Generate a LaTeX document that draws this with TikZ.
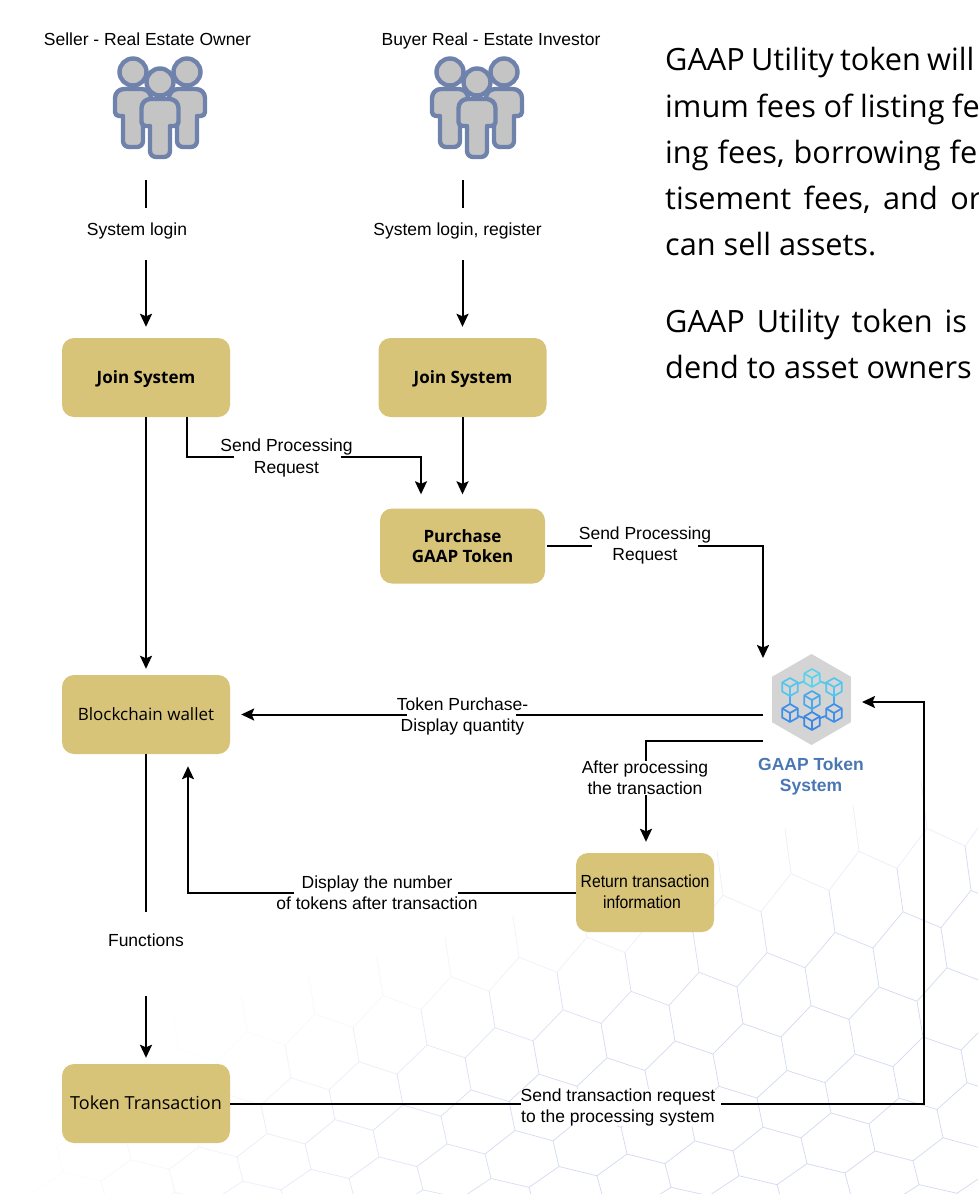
\documentclass[tikz,border=0pt]{standalone}
\usepackage{fontspec}
\setmainfont{Liberation Sans}
\newfontfamily\opensans{Open Sans}
\newfontfamily\narrowf[FakeStretch=0.9]{Liberation Sans}
\usetikzlibrary{arrows.meta,shapes.geometric}
\definecolor{boxgold}{HTML}{D7C479}
\definecolor{peopleline}{HTML}{6F82AC}
\definecolor{peoplefill}{HTML}{C4C4C4}
\definecolor{hexline}{HTML}{C3CDEB}
\definecolor{gaapblue}{HTML}{4A77B4}
\tikzset{
  x=1pt,y=-1pt,
  declare function={wy(\t)=\t-17*((1150-\t)/100)*((1150-\t)/100);},
  goldbox/.style={rectangle,rounded corners=12pt,fill=boxgold,minimum width=168pt,minimum height=79pt,inner sep=0pt,align=center,font=\opensans\fontsize{17}{20}\selectfont},
  boldbox/.style={goldbox,font=\opensans\bfseries\fontsize{17}{20}\selectfont},
  lbl/.style={inner sep=0pt,align=center,font=\fontsize{17.5}{21.3}\selectfont},
  wline/.style={draw=black,line width=2pt},
  warr/.style={wline,-{Stealth[length=13pt,width=12pt,inset=2.5pt]}},
  bodytxt/.style={anchor=base west,inner sep=0pt,font=\opensans\fontsize{30.7}{36}\selectfont},
  person/.style={draw=peopleline,fill=peoplefill,line width=4.4pt,line join=round},
}
\newcommand\onebody[3]{% x centre, top, arm half width
  \path[person] ({#1-#3+9},#2) -- ({#1+#3-9},#2)
    arc[start angle=90,end angle=0,radius=9pt,y=1pt] -- ({#1+#3},{#2+23})
    arc[start angle=0,end angle=-90,radius=4pt,y=1pt] -- ({#1+10},{#2+27})
    -- ({#1+10},{#2+52}) arc[start angle=0,end angle=-90,radius=6pt,y=1pt]
    -- ({#1-4},{#2+58}) arc[start angle=-90,end angle=-180,radius=6pt,y=1pt]
    -- ({#1-10},{#2+27}) -- ({#1-#3+4},{#2+27})
    arc[start angle=-90,end angle=-180,radius=4pt,y=1pt] -- ({#1-#3},{#2+9})
    arc[start angle=180,end angle=90,radius=9pt,y=1pt] -- cycle;}
\newcommand\people[1]{%
  \begin{scope}[shift={(#1,0)}]
    \path[person] (133,72) circle (13.5);
    \path[person] (187,72) circle (13.5);
    \onebody{133}{89}{18}
    \onebody{187}{89}{18}
    \path[person] (160,82) circle (13.5);
    \onebody{160}{99}{18.5}
  \end{scope}}
\newcommand\cube[3]{%
  \begin{scope}[shift={(#1,#2)}]
    \draw[#3,line width=1.7pt,line join=round,fill=peoplefill!70]
      (0,-9) -- (7.8,-4.5) -- (7.8,4.5) -- (0,9) -- (-7.8,4.5) -- (-7.8,-4.5) -- cycle;
    \draw[#3,line width=1.7pt] (-7.8,-4.5) -- (0,0) -- (7.8,-4.5) (0,0) -- (0,9);
  \end{scope}}
\begin{document}
\begin{tikzpicture}
\useasboundingbox (0,0) rectangle (978,1194);
\fill[white] (0,0) rectangle (978,1194);
% background honeycomb
\begin{scope}
\clip (0,0) rectangle (978,1194);
\foreach \i in {-9,...,8}{
 \foreach \j in {-10,...,10}{
  \pgfmathsetmacro\ax{627+68*\i+44*\j}
  \pgfmathsetmacro\ay{1154-13*\i+36*\j}
  \pgfmathsetmacro\op{0.75*min(1,max(0,(\ax)/550))*min(1,max(0,(wy(\ay)-770-0.35*(900-\ax))/150))}
  \ifdim\op pt>0.03pt
   \draw[hexline,line width=0.7pt,opacity=\op]
     ({\ax+38},{wy(\ay+10)}) -- (\ax,{wy(\ay)}) -- ({\ax-6},{wy(\ay-26)})
     (\ax,{wy(\ay)}) -- ({\ax-30},{wy(\ay+23)});
  \fi
 }}
\end{scope}
% people
\people{0}
\people{317}
\node[lbl] (sellerT) at (147.5,39) {Seller - Real Estate Owner};
\node[lbl] (buyerT) at (491,41) {Buyer Real - Estate Investor};
\coordinate (sellerOut) at (146,180);
\coordinate (buyerOut) at (463,180);
% boxes
\node[boldbox] (joinS) at (146,377.5) {};
\node[boldbox] (joinB) at (462.5,377.5) {};
\node[inner sep=0pt,font=\opensans\bfseries\fontsize{17}{20}\selectfont] (joinSt) at (146,379) {Join System};
\node[inner sep=0pt,font=\opensans\bfseries\fontsize{17}{20}\selectfont] (joinBt) at (463,379) {Join System};
\node[boldbox,minimum width=165pt,minimum height=75pt] (purchase) at (462.5,546) {Purchase\\GAAP Token};
\node[goldbox] (wallet) at (146,714.5) {Blockchain wallet};
\node[goldbox,minimum width=138pt] (ret) at (645,892.5) {};
\node[inner sep=0pt,align=center,font=\narrowf\fontsize{17.5}{21}\selectfont] (rett) at (645,891.5) {Return transaction\\\hspace*{-6pt}information};
\node[goldbox] (token) at (146,1103.5) {};
\node[inner sep=0pt,font=\opensans\fontsize{18}{20}\selectfont] (tokent) at (146,1102.5) {Token Transaction};
% GAAP system icon
\node[regular polygon,regular polygon sides=6,shape border rotate=30,minimum size=91pt,inner sep=0pt,fill=black!17] (gaap) at (811.5,699.5) {};
\draw[line width=1.7pt,color={rgb,255:red,86;green,196;blue,238}] (790,687) -- (812,678) -- (834,687);
\draw[line width=1.7pt,color={rgb,255:red,72;green,170;blue,236}] (790,687) -- (790,713) (834,687) -- (834,713) (812,700) -- (812,721);
\draw[line width=1.7pt,color={rgb,255:red,60;green,138;blue,232}] (790,713) -- (812,721) -- (834,713);
\cube{812}{678}{color={rgb,255:red,92;green,211;blue,234}}
\cube{790}{687}{color={rgb,255:red,85;green,197;blue,238}}
\cube{834}{687}{color={rgb,255:red,85;green,197;blue,238}}
\cube{812}{700}{color={rgb,255:red,71;green,168;blue,236}}
\cube{790}{713}{color={rgb,255:red,61;green,143;blue,233}}
\cube{834}{713}{color={rgb,255:red,61;green,143;blue,233}}
\cube{812}{721}{color={rgb,255:red,58;green,135;blue,232}}
\node[lbl,text=gaapblue,font=\bfseries\fontsize{17.5}{21.3}\selectfont] (gaapT) at (811,776.5) {GAAP Token\\System};
% labels
\node[lbl] (loginS) at (137,231) {System login};
\node[lbl] (loginB) at (457.5,231) {System login, register};
\node[lbl] (reqA) at (286.5,458) {Send Processing\\Request};
\node[lbl] (reqB) at (645,545.5) {Send Processing\\Request};
\node[lbl] (dispQ) at (462.5,716.5) {Token Purchase-\\Display quantity};
\node[lbl] (after) at (645,778) {After processing\\the transaction};
\node[lbl,fill=white] (dispN) at (377,892.5) {Display the number\\of tokens after transaction};
\node[lbl] (func) at (146,940) {Functions};
\node[lbl,fill=white] (sendT) at (618,1107.5) {Send transaction request\\to the processing system};
% junction points on the system icon
\coordinate (gaapIn) at (763,658);
\coordinate (gaapOutA) at (763,714.5);
\coordinate (gaapOutB) at (763,741);
\coordinate (gaapBack) at (862,702);
\coordinate (lineA) at (0,457);
\coordinate (lineT) at (0,1103.5);
\coordinate (afterX) at (646,0);
% connectors
\draw[wline] (sellerOut) -- (sellerOut |- 0,208);
\draw[wline] (buyerOut) -- (buyerOut |- 0,208);
\draw[warr,shorten >=11pt] (joinS.north |- 0,260) -- (joinS.north);
\draw[warr,shorten >=11pt] (joinB.north |- 0,260) -- (joinB.north);
\draw[warr,shorten >=6pt] (joinS.south) -- (wallet.north);
\draw[wline] ([xshift=41pt]joinS.south) |- ([xshift=14pt]reqA.west |- lineA);
\draw[warr,shorten >=14pt] ([xshift=-12pt]reqA.east |- lineA) -| ([xshift=-41.5pt]purchase.north);
\draw[warr,shorten >=14pt] (joinB.south) -- (purchase.north);
\draw[wline] ([xshift=2pt]purchase.east) -- ([xshift=13pt]reqB.west |- purchase.east);
\draw[warr] ([xshift=-13pt]reqB.east |- purchase.east) -| (gaapIn);
\draw[wline] (gaapOutA) -- ([xshift=-12pt]dispQ.east |- gaapOutA);
\draw[warr,shorten >=11pt] ([xshift=10pt]dispQ.west |- gaapOutA) -- (wallet.east);
\draw[wline] (gaapOutB) -| (afterX |- after.north);
\draw[warr,shorten >=11pt] (afterX |- after.south) -- (afterX |- ret.north);
\draw[wline] (ret.west) -- ([xshift=-20pt]dispN.east |- ret.west);
\draw[warr,shorten >=12pt] ([xshift=18pt]dispN.west |- ret.west) -| ([xshift=42pt]wallet.south);
\draw[wline] (wallet.south) -- (wallet.south |- 0,912);
\draw[warr,shorten >=6pt] (token.north |- 0,996) -- (token.north);
\draw[wline] (token.east |- lineT) -- (sendT.west |- lineT);
\coordinate (corner) at (924,1103.5);
\draw[warr] ([xshift=6pt]sendT.east |- lineT) -- (corner) |- (gaapBack);
% body text
\node[bodytxt] (p1) at (665,70) {\spaceskip=6.2pt GAAP Utility token will};
\node[bodytxt] (p2) at (665,117) {\spaceskip=7.6pt imum fees of listing fe};
\node[bodytxt] (p3) at (665,163) {\spaceskip=9pt ing fees, borrowing fe};
\node[bodytxt] (p4) at (665,209) {\spaceskip=12.5pt tisement fees, and or};
\node[bodytxt] (p5) at (665,255) {can sell assets.};
\node[bodytxt] (p6) at (665,332) {\spaceskip=12pt GAAP Utility token is};
\node[bodytxt] (p7) at (665,378) {dend to asset owners};
\end{tikzpicture}
\end{document}
